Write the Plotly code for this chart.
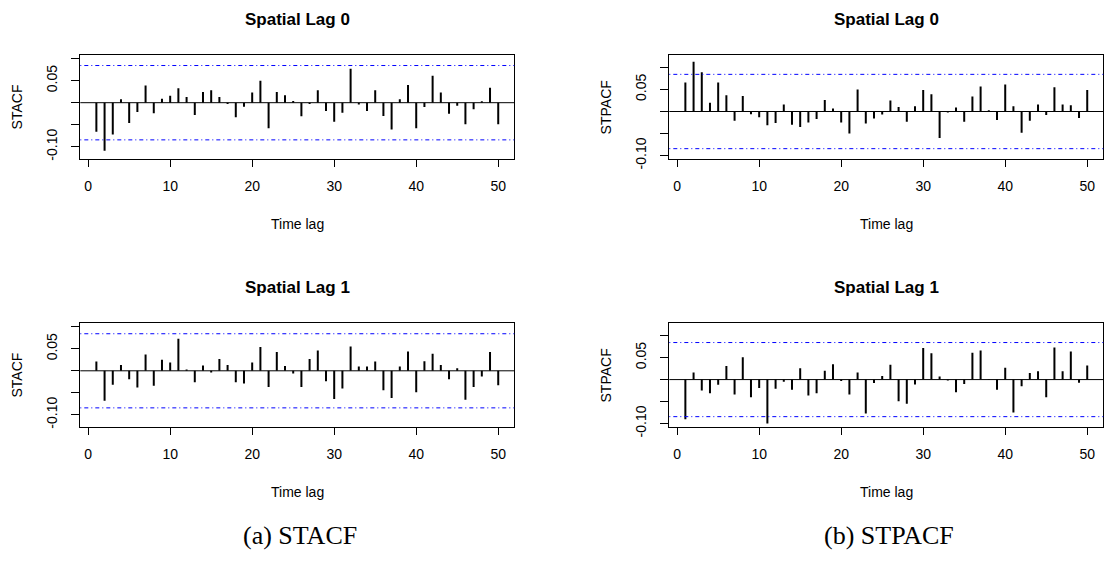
import plotly.graph_objects as go

lags = list(range(1, 51))

stacf_lag0 = [-0.066, -0.109, -0.072, 0.008, -0.046, -0.021, 0.039, -0.024, 0.009, 0.016,
              0.033, 0.013, -0.028, 0.024, 0.028, 0.013, -0.003, -0.033, -0.009, 0.023,
              0.050, -0.058, 0.024, 0.017, 0.004, -0.031, -0.003, 0.028, -0.019, -0.043,
              -0.023, 0.077, -0.004, -0.019, 0.028, -0.030, -0.061, 0.008, 0.040, -0.058,
              -0.010, 0.061, 0.023, -0.025, -0.007, -0.049, -0.015, 0.003, 0.034, -0.049]

stpacf_lag0 = [0.066, 0.113, 0.089, 0.020, 0.066, 0.037, -0.021, 0.035, -0.006, -0.013,
               -0.031, -0.026, 0.016, -0.030, -0.035, -0.025, -0.017, 0.026, 0.007, -0.025,
               -0.050, 0.050, -0.027, -0.016, -0.007, 0.025, 0.010, -0.023, 0.012, 0.049,
               0.039, -0.060, -0.002, 0.009, -0.023, 0.034, 0.057, 0.003, -0.019, 0.061,
               0.012, -0.048, -0.021, 0.016, -0.008, 0.055, 0.016, 0.014, -0.015, 0.049]

stacf_lag1 = [0.021, -0.068, -0.032, 0.013, -0.019, -0.038, 0.037, -0.034, 0.025, 0.019,
              0.073, 0.003, -0.026, 0.012, -0.004, 0.027, 0.013, -0.026, -0.029, 0.019,
              0.054, -0.037, 0.043, 0.011, -0.006, -0.037, 0.027, 0.046, -0.024, -0.064,
              -0.040, 0.055, 0.010, 0.010, 0.021, -0.044, -0.062, 0.010, 0.044, -0.049,
              0.022, 0.039, 0.013, -0.019, 0.006, -0.066, -0.037, -0.013, 0.043, -0.033]

stpacf_lag1 = [-0.090, 0.016, -0.025, -0.031, -0.012, 0.031, -0.034, 0.051, -0.040, -0.019,
               -0.100, -0.021, -0.005, -0.023, 0.026, -0.036, -0.031, 0.020, 0.035, -0.003,
               -0.034, 0.016, -0.077, -0.008, 0.008, 0.034, -0.049, -0.055, -0.011, 0.072,
               0.060, 0.007, -0.002, -0.029, -0.010, 0.061, 0.066, -0.001, -0.023, 0.027,
               -0.075, -0.015, 0.015, 0.019, -0.040, 0.073, 0.019, 0.064, -0.007, 0.032]

ci_bound = 0.0843
x_ticks = [0, 10, 20, 30, 40, 50]
y_ticks = [-0.10, -0.05, 0.0, 0.05, 0.10]
y_tick_labels = ["-0.10", "", "", "0.05", ""]
panel_titles = ["Spatial Lag 0", "Spatial Lag 0", "Spatial Lag 1", "Spatial Lag 1"]
y_titles = ["STACF", "STPACF", "STACF", "STPACF"]
captions = ["(a) STACF", "(b) STPACF"]

W, H = 1104, 574
FONT = "Liberation Sans"

# panel boxes in pixels: (left, right, top, bottom)
boxes = [
    (80.3, 514.3, 55.7, 162.3),
    (669.3, 1103.3, 55.7, 162.3),
    (80.3, 514.3, 328.7, 435.0),
    (669.3, 1103.3, 328.7, 435.0),
]
series = [stacf_lag0, stpacf_lag0, stacf_lag1, stpacf_lag1]
yranges = [[-0.1288, 0.1088], [-0.1088, 0.1288], [-0.1288, 0.1088], [-0.1088, 0.1288]]

fig = go.Figure()
layout = dict(
    width=W, height=H, margin=dict(l=0, r=0, t=0, b=0),
    paper_bgcolor="white", plot_bgcolor="white", showlegend=False,
    font=dict(family=FONT, size=14, color="black"),
)
annotations = []
shapes = []

for i in range(4):
    l, r, t, b = boxes[i]
    xa = "xaxis" if i == 0 else f"xaxis{i+1}"
    ya = "yaxis" if i == 0 else f"yaxis{i+1}"
    xr = "x" if i == 0 else f"x{i+1}"
    yr = "y" if i == 0 else f"y{i+1}"
    layout[xa] = dict(
        domain=[l / W, r / W], anchor=yr, range=[-0.96, 51.96],
        tickvals=x_ticks, ticktext=[str(v) for v in x_ticks],
        ticks="outside", ticklen=7, tickwidth=1, tickcolor="black",
        ticklabelstandoff=7,
        showline=True, mirror=True, linecolor="black", linewidth=1,
        showgrid=False, zeroline=False, tickfont=dict(size=14, family=FONT),
    )
    layout[ya] = dict(
        domain=[1 - b / H, 1 - t / H], anchor=xr, range=yranges[i],
        tickvals=y_ticks, ticktext=y_tick_labels, tickangle=-90,
        ticks="outside", ticklen=8, tickwidth=1, tickcolor="black",
        ticklabelstandoff=9,
        showline=True, mirror=True, linecolor="black", linewidth=1,
        showgrid=False, zeroline=False, tickfont=dict(size=14, family=FONT),
    )
    # stems
    xs, ys = [], []
    for k, v in zip(lags, series[i]):
        xs += [k, k, None]
        ys += [0, v, None]
    fig.add_trace(go.Scatter(x=xs, y=ys, mode="lines", xaxis=xr, yaxis=yr,
                             line=dict(color="black", width=2), hoverinfo="skip"))
    # zero line
    shapes.append(dict(type="line", xref=f"{xr} domain", yref=yr, x0=0, x1=1, y0=0, y1=0,
                       line=dict(color="black", width=1)))
    # confidence bounds
    for s in (1, -1):
        shapes.append(dict(type="line", xref=f"{xr} domain", yref=yr, x0=0, x1=1,
                           y0=s * ci_bound, y1=s * ci_bound,
                           line=dict(color="#0000ff", width=1, dash="1px,3px,4px,3px")))
    cx = (l + r) / 2 / W
    annotations.append(dict(text=f"<b>{panel_titles[i]}</b>", x=cx, y=1 - (t - 36) / H,
                            xref="paper", yref="paper", showarrow=False,
                            xanchor="center", yanchor="middle",
                            font=dict(size=17, family=FONT)))
    annotations.append(dict(text="Time lag", x=cx, y=1 - (b + 66) / H,
                            xref="paper", yref="paper", showarrow=False,
                            xanchor="center", yanchor="middle",
                            font=dict(size=14, family=FONT)))
    annotations.append(dict(text=y_titles[i], x=(l - 63) / W, y=1 - (t + b) / 2 / H,
                            xref="paper", yref="paper", showarrow=False, textangle=-90,
                            xanchor="center", yanchor="middle",
                            font=dict(size=14, family=FONT)))

annotations.append(dict(text=captions[0], x=300 / W, y=1 - 545 / H, xref="paper", yref="paper",
                        showarrow=False, xanchor="center", yanchor="middle",
                        font=dict(size=26, family="Liberation Serif")))
annotations.append(dict(text=captions[1], x=889 / W, y=1 - 545 / H, xref="paper", yref="paper",
                        showarrow=False, xanchor="center", yanchor="middle",
                        font=dict(size=26, family="Liberation Serif")))

layout["annotations"] = annotations
layout["shapes"] = shapes
fig.update_layout(**layout)
fig.write_html("out.html")
